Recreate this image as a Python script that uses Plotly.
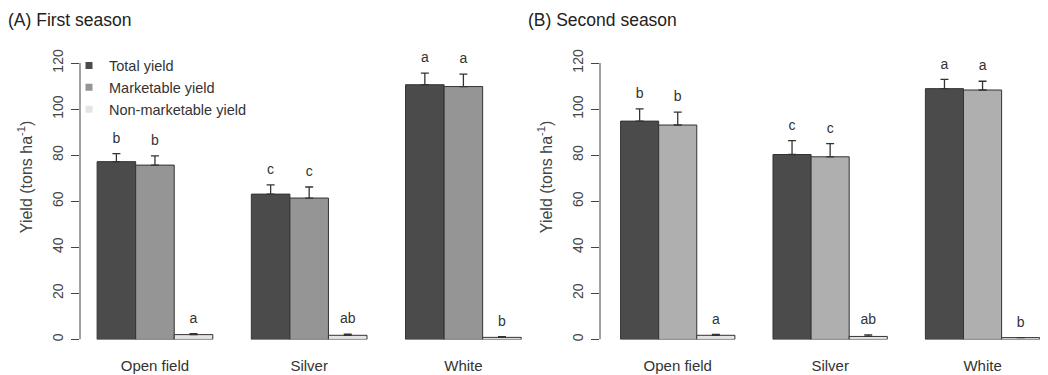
import plotly.graph_objects as go

# ---------------- data ----------------
categories = ["Open field", "Silver", "White"]
series_names = ["Total yield", "Marketable yield", "Non-marketable yield"]

a_total = [77.2, 63.1, 110.6]
a_total_se = [3.5, 4.0, 5.0]
a_mark = [75.7, 61.4, 109.8]
a_mark_se = [4.0, 4.8, 5.4]
a_non = [2.1, 1.8, 0.9]
a_non_se = [0.4, 0.5, 0.3]

b_total = [94.8, 80.3, 108.9]
b_total_se = [5.3, 6.0, 4.0]
b_mark = [93.1, 79.3, 108.3]
b_mark_se = [5.6, 5.7, 3.8]
b_non = [1.8, 1.3, 0.8]
b_non_se = [0.4, 0.7, 0.0]

letters_total = ["b", "c", "a"]
letters_mark = ["b", "c", "a"]
letters_non = ["a", "ab", "b"]

y_ticks = [0, 20, 40, 60, 80, 100, 120]

# ---------------- style ----------------
FONT = "Liberation Sans, Arial, sans-serif"
TXT = "#333333"
colors_a = ["#4b4b4b", "#959595", "#e4e4e4"]
colors_b = ["#4b4b4b", "#afafaf", "#e4e4e4"]
OUTLINE = "#333333"
BAR_W = 0.25
W, H = 1048, 375
OFF = 8  # page body margin


def xp(px):
    return (px - OFF) / W


def yp(py):
    return (H - (py - OFF)) / H


fig = go.Figure()

panels = [
    dict(xa="x", ya="y", vals=[a_total, a_mark, a_non], ses=[a_total_se, a_mark_se, a_non_se],
         colors=colors_a),
    dict(xa="x2", ya="y2", vals=[b_total, b_mark, b_non], ses=[b_total_se, b_mark_se, b_non_se],
         colors=colors_b),
]
letters = [letters_total, letters_mark, letters_non]

for p in panels:
    for j in range(3):
        xs = [i + (j - 1) * BAR_W for i in range(len(categories))]
        fig.add_trace(go.Bar(
            x=xs, y=p["vals"][j], width=BAR_W, name=series_names[j],
            xaxis=p["xa"], yaxis=p["ya"], showlegend=False,
            marker=dict(color=p["colors"][j], line=dict(color=OUTLINE, width=1)),
            error_y=dict(type="data", symmetric=False, array=p["ses"][j],
                         arrayminus=[0] * len(categories), color=OUTLINE, thickness=1.3, width=4),
        ))
        fig.add_trace(go.Scatter(
            x=xs, y=[v + s + 3.2 for v, s in zip(p["vals"][j], p["ses"][j])],
            mode="text", text=letters[j], textposition="top center",
            textfont=dict(family=FONT, size=14, color=TXT),
            xaxis=p["xa"], yaxis=p["ya"], showlegend=False, hoverinfo="skip",
        ))

# legend entries (small square keys, as in the original)
for j in range(3):
    fig.add_trace(go.Scatter(
        x=[None], y=[None], mode="markers", name=series_names[j],
        marker=dict(symbol="square", size=7, color=colors_a[j]),
        xaxis="x", yaxis="y", showlegend=True,
    ))

ydom = [yp(341), yp(50)]
axis_common_y = dict(range=[0, 125], tickvals=y_ticks, ticks="outside", ticklen=8, tickwidth=1,
                     tickcolor="#444", tickangle=-90, showgrid=False, zeroline=False, showline=False,
                     ticklabelstandoff=2,
                     tickfont=dict(family=FONT, size=14, color="#444"), domain=ydom)
axis_common_x = dict(tickvals=[0, 1, 2], ticktext=categories, ticks="", showgrid=False,
                     zeroline=False, showline=False, ticklabelstandoff=16,
                     tickfont=dict(family=FONT, size=15, color=TXT))

ytitle = "Yield (tons ha<sup>-1</sup>)"

fig.update_layout(
    width=W, height=H, margin=dict(l=0, r=0, t=0, b=0),
    paper_bgcolor="white", plot_bgcolor="white", barmode="overlay",
    xaxis=dict(axis_common_x, domain=[xp(80), xp(522)], range=[-0.486, 2.38], anchor="y"),
    yaxis=dict(axis_common_y, anchor="x"),
    xaxis2=dict(axis_common_x, domain=[xp(600), xp(1042)], range=[-0.51, 2.39], anchor="y2"),
    yaxis2=dict(axis_common_y, anchor="x2"),
    legend=dict(x=xp(69), y=yp(48), xanchor="left", yanchor="top", bgcolor="rgba(0,0,0,0)",
                font=dict(family=FONT, size=14.5, color=TXT), tracegroupgap=0, itemwidth=30,
                traceorder="normal"),
    font=dict(family=FONT),
    annotations=[
        dict(text="(A) First season", x=xp(6), y=yp(18), xref="paper", yref="paper",
             xanchor="left", yanchor="middle", showarrow=False,
             font=dict(family=FONT, size=17.5, color="#222")),
        dict(text="(B) Second season", x=xp(526), y=yp(18), xref="paper", yref="paper",
             xanchor="left", yanchor="middle", showarrow=False,
             font=dict(family=FONT, size=17.5, color="#222")),
        dict(text=ytitle, x=xp(25), y=yp(177), xref="paper", yref="paper", textangle=-90,
             xanchor="center", yanchor="middle", showarrow=False,
             font=dict(family=FONT, size=16, color="#444")),
        dict(text=ytitle, x=xp(545), y=yp(177), xref="paper", yref="paper", textangle=-90,
             xanchor="center", yanchor="middle", showarrow=False,
             font=dict(family=FONT, size=16, color="#444")),
    ],
    shapes=[
        dict(type="line", xref="x domain", yref="y", x0=0, x1=0, y0=y_ticks[0], y1=y_ticks[-1],
             line=dict(color="#444", width=1)),
        dict(type="line", xref="x2 domain", yref="y2", x0=0, x1=0, y0=y_ticks[0], y1=y_ticks[-1],
             line=dict(color="#444", width=1)),
    ],
)

fig.write_html("out.html")
